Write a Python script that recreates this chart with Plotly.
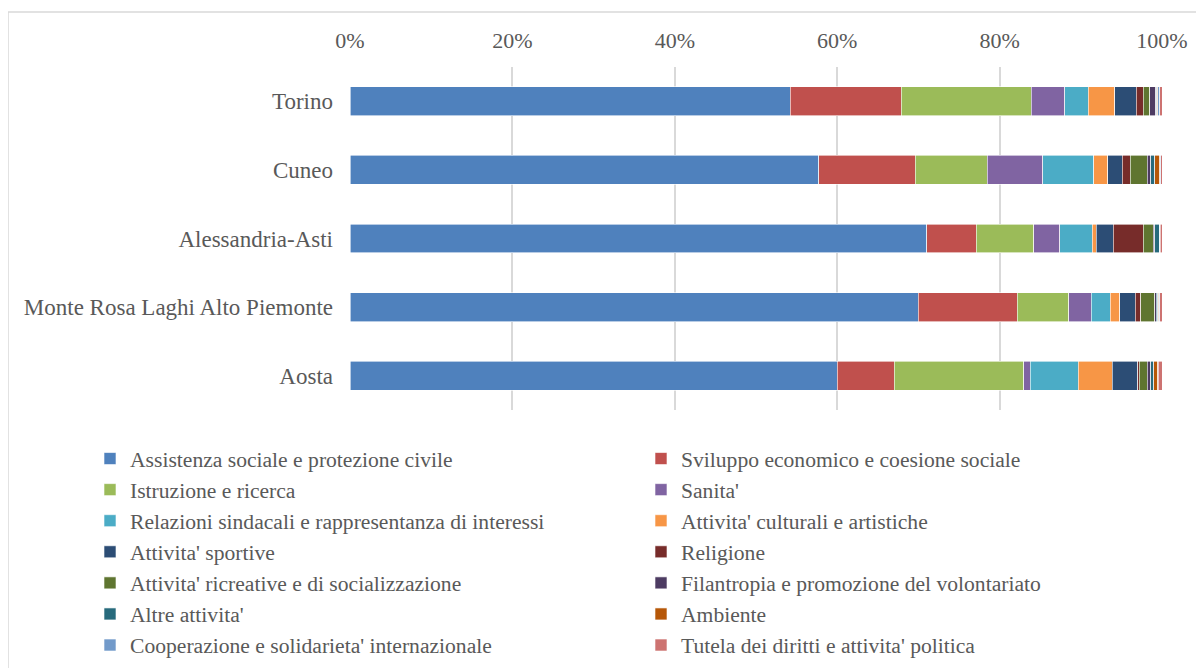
import plotly.graph_objects as go

categories = ["Torino", "Cuneo", "Alessandria-Asti", "Monte Rosa Laghi Alto Piemonte", "Aosta"]

series_names = [
    "Assistenza sociale e protezione civile",
    "Sviluppo economico e coesione sociale",
    "Istruzione e ricerca",
    "Sanita'",
    "Relazioni sindacali e rappresentanza di interessi",
    "Attivita' culturali e artistiche",
    "Attivita' sportive",
    "Religione",
    "Attivita' ricreative e di socializzazione",
    "Filantropia e promozione del volontariato",
    "Altre attivita'",
    "Ambiente",
    "Cooperazione e solidarieta' internazionale",
    "Tutela dei diritti e attivita' politica",
]

assistenza = [54.2, 57.7, 71.2, 70.0, 60.0]
sviluppo = [13.7, 11.9, 6.1, 12.2, 7.0]
istruzione = [16.0, 8.9, 7.1, 6.3, 16.0]
sanita = [4.1, 6.8, 3.2, 2.8, 0.8]
relazioni = [2.9, 6.3, 4.0, 2.3, 5.9]
culturali = [3.3, 1.7, 0.5, 1.2, 4.2]
sportive = [2.6, 1.8, 2.1, 1.9, 3.1]
religione = [0.9, 1.0, 3.7, 0.7, 0.2]
ricreative = [0.8, 2.1, 1.2, 1.7, 1.0]
filantropia = [0.7, 0.4, 0.2, 0.2, 0.4]
altre = [0.15, 0.5, 0.6, 0.15, 0.4]
ambiente = [0.15, 0.65, 0.05, 0.15, 0.5]
cooperazione = [0.2, 0.1, 0.05, 0.1, 0.05]
tutela = [0.3, 0.15, 0.2, 0.3, 0.45]

series_values = [assistenza, sviluppo, istruzione, sanita, relazioni, culturali, sportive,
                 religione, ricreative, filantropia, altre, ambiente, cooperazione, tutela]

colors = ["#4F81BD", "#C0504D", "#9BBB59", "#8064A2", "#4BACC6", "#F79646", "#2C4D75",
          "#772C2A", "#5F7530", "#4D3B62", "#276A7C", "#B65708", "#729ACA", "#CD7371"]

tick_vals = [0, 20, 40, 60, 80, 100]
tick_text = ["0%", "20%", "40%", "60%", "80%", "100%"]

FONT = "Liberation Serif, Times New Roman, serif"
TXT = "#595959"

fig = go.Figure()
for name, vals, col in zip(series_names, series_values, colors):
    fig.add_trace(go.Bar(
        y=categories, x=vals, name=name, orientation="h",
        marker=dict(color=col, line=dict(color="white", width=0.6)),
    ))

# page body has an 8px margin: figure coordinates = screen coordinates - 8
OFF = 8
W, H = 1188, 700
ml, mt = 350 - OFF, 67 - OFF
pw, ph = 812, 343
mr = W - ml - pw
mb = H - mt - ph

def sx(px):
    return (px - OFF - ml) / pw

def sy(py):
    return (mt + ph - (py - OFF)) / ph

fig.update_layout(
    width=W, height=H,
    margin=dict(l=ml, r=mr, t=mt, b=mb, autoexpand=False),
    barmode="stack", barnorm="percent", bargap=0.58,
    plot_bgcolor="white", paper_bgcolor="white",
    font=dict(family=FONT, size=22, color=TXT),
    xaxis=dict(side="top", range=[0, 100], tickvals=tick_vals, ticktext=tick_text,
               showgrid=True, gridcolor="#D9D9D9", gridwidth=1.5, zeroline=False,
               showline=False, ticks="", ticklabelstandoff=14,
               tickfont=dict(family=FONT, size=22, color=TXT)),
    yaxis=dict(autorange="reversed", showgrid=False, zeroline=False, showline=False,
               ticks="", ticklabelstandoff=16,
               tickfont=dict(family=FONT, size=23, color=TXT)),
    legend=dict(orientation="h", x=sx(90), xanchor="left",
                y=sy(438), yanchor="top", entrywidth=506,
                font=dict(family=FONT, size=21.6, color=TXT), traceorder="normal",
                bgcolor="rgba(0,0,0,0)", itemclick=False),
    showlegend=True,
    shapes=[dict(type="rect", xref="paper", yref="paper",
                 x0=sx(8), x1=sx(1197),
                 y0=sy(690), y1=sy(12),
                 line=dict(color="#D9D9D9", width=1.5), fillcolor="rgba(0,0,0,0)",
                 layer="below")],
)

fig.write_html("out.html")
